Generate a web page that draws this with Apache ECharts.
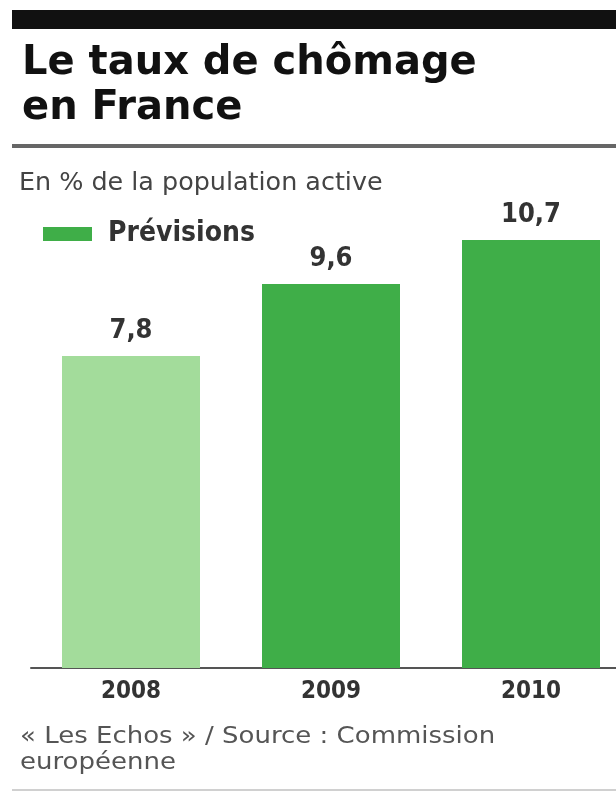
<!DOCTYPE html>
<html>
<head>
<meta charset="utf-8">
<script src="https://cdn.jsdelivr.net/npm/echarts@6/dist/echarts.min.js"></script>
<style>
html,body{margin:0;padding:0;background:#fff;}
#chart{width:616px;height:792px;}
</style>
</head>
<body>
<div id="chart"></div>
<script>
// ---- data ----
var years = ['2008', '2009', '2010'];
var observed = [7.8, '-', '-'];      // 2008 (light green)
var forecast = ['-', 9.6, 10.7];     // Prévisions (dark green)
var titleLines = ['Le taux de chômage', 'en France'];
var subtitle = 'En % de la population active';
var sourceLines = ['« Les Echos » / Source : Commission', 'européenne'];
var forecastName = 'Prévisions';

var chart = echarts.init(document.getElementById('chart'), null, {renderer: 'canvas'});

function fmt(p) { return String(p.value).replace('.', ','); }

var labelStyle = {
  show: true, position: 'top', distance: 12,
  fontFamily: '"DejaVu Sans Condensed", "DejaVu Sans"', fontWeight: 'bold',
  fontSize: 27, color: '#333', formatter: fmt
};

chart.setOption({
  backgroundColor: '#ffffff',
  animation: false,
  grid: {left: 31, width: 600, top: 188, bottom: 124, outerBoundsMode: 'none', containLabel: false},
  legend: {
    data: [forecastName],
    left: 43, top: 220, padding: 0,
    itemWidth: 49, itemHeight: 14, icon: 'rect',
    textStyle: {
      fontFamily: '"DejaVu Sans Condensed", "DejaVu Sans"', fontWeight: 'bold',
      fontSize: 28, color: '#333', padding: [0, 0, 0, 11]
    }
  },
  xAxis: {
    type: 'category', data: years,
    axisLine: {show: true, lineStyle: {color: '#555', width: 2}},
    axisTick: {show: false},
    axisLabel: {
      margin: 12, color: '#333', fontSize: 24, fontWeight: 'bold',
      fontFamily: '"DejaVu Sans Condensed", "DejaVu Sans"'
    }
  },
  yAxis: {type: 'value', min: 0, max: 12, show: false, splitLine: {show: false}},
  series: [
    {
      name: 'Observé', type: 'bar', stack: 'v', data: observed, barWidth: 138,
      itemStyle: {color: '#a3dc9b'}, label: labelStyle
    },
    {
      name: forecastName, type: 'bar', stack: 'v', data: forecast, barWidth: 138,
      itemStyle: {color: '#3fae48'}, label: labelStyle
    }
  ],
  graphic: [
    {type: 'rect', shape: {x: 12, y: 10, width: 604, height: 19}, style: {fill: '#111'}},
    {type: 'text', style: {x: 22, y: 64, text: titleLines[0], font: 'bold 40px "DejaVu Sans"', fill: '#111', verticalAlign: 'middle'}},
    {type: 'text', style: {x: 22, y: 109, text: titleLines[1], font: 'bold 40px "DejaVu Sans"', fill: '#111', verticalAlign: 'middle'}},
    {type: 'rect', shape: {x: 12, y: 144, width: 604, height: 4}, style: {fill: '#666'}},
    {type: 'text', x: 19, y: 183, scaleX: 1.13,
      style: {x: 0, y: 0, text: subtitle, font: '25px "DejaVu Sans Condensed", "DejaVu Sans"', fill: '#444', verticalAlign: 'middle'}},
    {type: 'text', x: 20, y: 737, scaleX: 1.13,
      style: {x: 0, y: 0, text: sourceLines[0], font: '23px "DejaVu Sans"', fill: '#555', verticalAlign: 'middle'}},
    {type: 'text', x: 20, y: 763, scaleX: 1.13,
      style: {x: 0, y: 0, text: sourceLines[1], font: '23px "DejaVu Sans"', fill: '#555', verticalAlign: 'middle'}},
    {type: 'rect', shape: {x: 12, y: 789, width: 604, height: 2}, style: {fill: '#d0d0d0'}}
  ]
});
</script>
</body>
</html>
